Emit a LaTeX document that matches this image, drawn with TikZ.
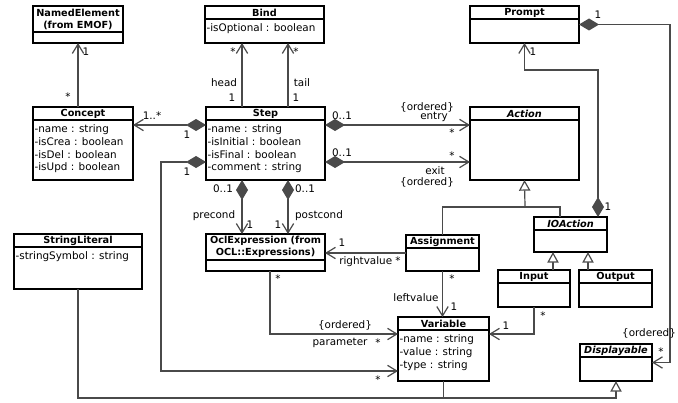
\documentclass[tikz,border=0pt]{standalone}
\usepackage{fontspec}
\setmainfont{DejaVu Sans}
\usepackage{tikz}
\usetikzlibrary{positioning}
\usetikzlibrary{calc}
\usetikzlibrary{arrows.meta}

\definecolor{linegray}{HTML}{4A4A4A}
\newcommand{\umlfont}{\fontsize{7.8}{9.5}\selectfont}
\newcommand{\umltitlefont}{\fontsize{7.3}{9}\selectfont\bfseries}

% clase UML: nombre, x, y, ancho, alto, alto del titulo, titulo, atributos
\newcommand{\umlclass}[8]{%
  \node[classbox, minimum width=#4*0.75pt, minimum height=#5*0.75pt] (#1) at (#2,#3) {};
  \coordinate (#1-sep) at ($(#1.north west)+(0,#6)$);
  \draw[classsep] (#1-sep) -- (#1-sep -| #1.east);
  \node[classtitle] (#1-t) at ($(#1.north)+(0,#6/2)$) {#7};
  \node[classattr] (#1-a) at (#1-sep) {#8};
}

\begin{document}
\begin{tikzpicture}[x=0.75pt, y=-0.75pt,
    classbox/.style={draw=black, line width=0.8pt, fill=white, anchor=north west, inner sep=0pt, outer sep=0pt},
    classsep/.style={draw=black, line width=0.8pt},
    classtitle/.style={font=\umltitlefont, align=center, inner sep=0pt},
    classattr/.style={font=\umlfont, align=left, anchor=north west, inner xsep=1pt, inner ysep=3.5pt},
    plain/.style={draw=linegray, line width=0.9pt},
    assoc/.style={plain, -{Straight Barb[length=7pt,width=8.5pt]}},
    comp/.style={plain, {Diamond[length=15pt,width=9pt]}-{Straight Barb[length=7pt,width=8.5pt]}},
    gen/.style={plain, -{Triangle[length=8pt,width=8.5pt,fill=white]}},
    lbl/.style={font=\umlfont, inner sep=0pt}]
  \useasboundingbox[fill=white] (0,0) rectangle (678,403);

  % Clases
  \umlclass{named}{33}{6}{90}{37}{26}{NamedElement\\(from EMOF)}{}
  \umlclass{bind}{205}{6}{119}{37}{13}{Bind}{-isOptional : boolean}
  \umlclass{prompt}{470}{6}{109}{37}{13}{Prompt}{}
  \umlclass{concept}{33}{107}{100}{73}{13}{Concept}{-name : string\\-isCrea : boolean\\-isDel : boolean\\-isUpd : boolean}
  \umlclass{step}{206}{107}{119}{73}{13}{Step}{-name : string\\-isInitial : boolean\\-isFinal : boolean\\-comment : string}
  \umlclass{action}{470}{107}{109}{73}{13}{\itshape Action}{}
  \umlclass{slit}{14}{234}{128}{55}{13}{StringLiteral}{-stringSymbol : string}
  \umlclass{ocl}{206}{234}{119}{37}{26}{OclExpression (from\\OCL::Expressions)}{}
  \umlclass{assign}{406}{235}{73}{36}{13}{Assignment}{}
  \umlclass{ioaction}{534}{217}{73}{35}{13}{\itshape IOAction}{}
  \umlclass{input}{498}{270}{72}{37}{13}{Input}{}
  \umlclass{output}{579}{270}{73}{37}{13}{Output}{}
  \umlclass{variable}{398}{317}{91}{64}{13}{Variable}{-name : string\\-value : string\\-type : string}
  \umlclass{disp}{580}{344}{72}{37}{13}{\itshape Displayable}{}

  % Carriles
  \coordinate (headx) at (242,0);
  \coordinate (tailx) at (288,0);
  \coordinate (entryY) at (0,125);
  \coordinate (exitY) at (0,162);
  \coordinate (varBend) at (161,371);
  \coordinate (paramBend) at (270,334);
  \coordinate (genJoin) at (525,207);
  \coordinate (ioGenx) at (560,0);
  \coordinate (inGenx) at (553,0);
  \coordinate (outGenx) at (588,0);
  \coordinate (promptBend) at (598,70);
  \coordinate (rightx) at (670,0);
  \coordinate (bottomY) at (0,398);

  % Asociaciones
  \draw[assoc] (concept.north -| named.south) -- (named.south);
  \draw[comp] (step.west |- entryY) -- (concept.east |- entryY);
  \draw[assoc] (step.north -| headx) -- (bind.south -| headx);
  \draw[assoc] (step.north -| tailx) -- (bind.south -| tailx);
  \draw[comp] (step.east |- entryY) -- (action.west |- entryY);
  \draw[comp] (step.east |- exitY) -- (action.west |- exitY);
  \draw[comp] (step.south -| headx) -- (ocl.north -| headx);
  \draw[comp] (step.south -| tailx) -- (ocl.north -| tailx);
  \draw[comp] (step.west |- exitY) -| (varBend) -- (variable.west |- varBend);
  \draw[assoc] (ocl.south -| paramBend) |- (variable.west |- paramBend);
  \draw[assoc] (assign.west) -- (ocl.east |- assign.west);
  \draw[assoc] (assign.south) -- (assign.south |- variable.north);
  \draw[assoc] (input.south) |- (variable.east |- paramBend);
  \draw[comp] (ioaction.north -| promptBend) -- (promptBend) -| (prompt.south);
  \draw[comp] (prompt.east) -| (rightx |- disp.east) -- (disp.east);

  % Generalizaciones
  \draw[gen] (genJoin) -- (action.south);
  \draw[plain] (assign.north) |- (genJoin) -| (ioaction.north -| ioGenx);
  \draw[gen] (input.north -| inGenx) -- (ioaction.south -| inGenx);
  \draw[gen] (output.north -| outGenx) -- (ioaction.south -| outGenx);
  \draw[gen] (slit.south) |- (disp.south |- bottomY) -- (disp.south);
  \draw[plain] (variable.south) -- (variable.south |- bottomY);

  % Etiquetas
  \node[lbl] (l-ne) at (86,52) {1};
  \node[lbl] (l-co) at (68,97) {*};
  \node[lbl] (l-co2) at (152,116) {1..*};
  \node[lbl] (l-st1) at (187,135) {1};
  \node[lbl] (l-st2) at (187,172) {1};
  \node[lbl] (l-h1) at (233,52) {*};
  \node[lbl] (l-head) at (224,83) {head};
  \node[lbl] (l-h2) at (232,98) {1};
  \node[lbl] (l-t1) at (296,52) {*};
  \node[lbl] (l-tail) at (302,83) {tail};
  \node[lbl] (l-t2) at (296,98) {1};
  \node[lbl] (l-en1) at (342,116) {0..1};
  \node[lbl] (l-en2) at (427,107) {\{ordered\}};
  \node[lbl] (l-entry) at (434,117) {entry};
  \node[lbl] (l-en3) at (452,133) {*};
  \node[lbl] (l-ex1) at (342,153) {0..1};
  \node[lbl] (l-ex2) at (452,156) {*};
  \node[lbl] (l-exit) at (435,171) {exit};
  \node[lbl] (l-ex3) at (427,182) {\{ordered\}};
  \node[lbl] (l-pre1) at (223,189) {0..1};
  \node[lbl] (l-pre) at (214,216) {precond};
  \node[lbl] (l-pre2) at (250,225) {1};
  \node[lbl] (l-post1) at (305,189) {0..1};
  \node[lbl] (l-post) at (319,216) {postcond};
  \node[lbl] (l-post2) at (278,225) {1};
  \node[lbl] (l-oc) at (278,279) {*};
  \node[lbl] (l-par1) at (345,325) {\{ordered\}};
  \node[lbl] (l-par) at (340,343) {parameter};
  \node[lbl] (l-par2) at (378,343) {*};
  \node[lbl] (l-var) at (378,380) {*};
  \node[lbl] (l-rv1) at (342,243) {1};
  \node[lbl] (l-rv) at (370,262) {rightvalue *};
  \node[lbl] (l-lv1) at (452,279) {*};
  \node[lbl] (l-lv) at (416,298) {leftvalue};
  \node[lbl] (l-lv2) at (454,307) {1};
  \node[lbl] (l-in1) at (543,316) {*};
  \node[lbl] (l-in2) at (506,326) {1};
  \node[lbl] (l-io) at (608,207) {1};
  \node[lbl] (l-pr1) at (533,52) {1};
  \node[lbl] (l-pr2) at (598,15) {1};
  \node[lbl] (l-di1) at (649,333) {\{ordered\}};
  \node[lbl] (l-di2) at (661,352) {*};
\end{tikzpicture}
\end{document}
